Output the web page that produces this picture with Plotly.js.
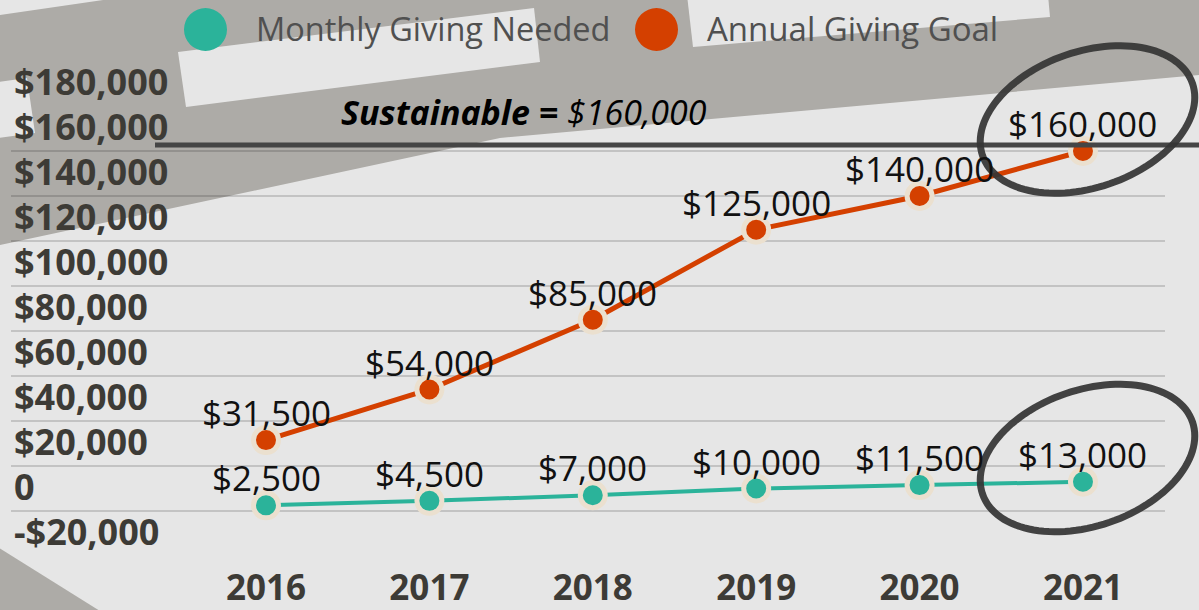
<!DOCTYPE html>
<html>
<head>
<meta charset="utf-8">
<script src="https://cdn.plot.ly/plotly-3.0.1.min.js"></script>
<style>html,body{margin:0;padding:0;background:#e6e6e6;}#chart{width:1199px;height:610px;}</style>
</head>
<body>
<div id="chart"></div>
<script>
// ---- data ----
const years = ['2016', '2017', '2018', '2019', '2020', '2021'];
const monthlyGivingNeeded = [2500, 4500, 7000, 10000, 11500, 13000];
const annualGivingGoal = [31500, 54000, 85000, 125000, 140000, 160000];
const yTickVals = [-20000, 0, 20000, 40000, 60000, 80000, 100000, 120000, 140000, 160000, 180000];
const yTickText = ['-$20,000', '0', '$20,000', '$40,000', '$60,000', '$80,000', '$100,000', '$120,000', '$140,000', '$160,000', '$180,000'];
const sustainableGoal = 160000;
const seriesNames = ['Monthly Giving Needed', 'Annual Giving Goal'];

// ---- style ----
const TEAL = '#2bb39a', ORANGE = '#d44000', RING = '#ebe0cf';
const W = 1199, H = 610, M = {l: 11, r: 34, t: 106, b: 54};
const PW = W - M.l - M.r, PH = H - M.t - M.b;
const px = x => (x - M.l) / PW;
const py = y => (M.t + PH - y) / PH;
const fmt = v => '$' + v.toLocaleString('en-US');

function poly(pts, color, layer) {
  return {type: 'path', xref: 'paper', yref: 'paper', layer: layer || 'below',
    path: 'M' + pts.map(p => px(p[0]).toFixed(5) + ',' + py(p[1]).toFixed(5)).join(' L') + ' Z',
    fillcolor: color, line: {width: 0}};
}
function ellipse(cx, cy, a, b, deg) {
  const th = deg * Math.PI / 180, pts = [];
  for (let i = 0; i < 120; i++) {
    const t = i / 120 * 2 * Math.PI;
    pts.push([cx + a * Math.cos(t) * Math.cos(th) - b * Math.sin(t) * Math.sin(th),
              cy + a * Math.cos(t) * Math.sin(th) + b * Math.sin(t) * Math.cos(th)]);
  }
  return {type: 'path', xref: 'paper', yref: 'paper', layer: 'above', opacity: 0.92,
    path: 'M' + pts.map(p => px(p[0]).toFixed(5) + ',' + py(p[1]).toFixed(5)).join(' L') + ' Z',
    line: {color: '#353535', width: 7}};
}

const DARK = '#adaba7', LIGHT = '#e6e6e6';
const shapes = [
  poly([[0, 15], [110, -1], [1200, -1], [1200, 75], [500, 138], [0, 245]], DARK),
  poly([[178, 52], [534, 8], [540, 62], [186, 107]], LIGHT),
  poly([[687, -5], [1048, -5], [1050, 17], [693, 47]], LIGHT),
  poly([[-1, 82], [27, 78], [35, 133], [-1, 138]], LIGHT),
  poly([[-1, 548], [-1, 611], [100, 611]], DARK),
  {type: 'line', xref: 'paper', yref: 'y', ysizemode: 'pixel', yanchor: sustainableGoal,
   x0: px(155), x1: px(1200), y0: 6, y1: 6, layer: 'above',
   line: {color: '#454545', width: 5}},
  ellipse(1087.5, 119.5, 111, 68, -19),
  ellipse(1087.5, 458, 111, 68, -19),
  {type: 'circle', xref: 'paper', yref: 'paper', x0: px(184), x1: px(227), y0: py(8), y1: py(51),
   fillcolor: TEAL, line: {width: 0}, layer: 'above'},
  {type: 'circle', xref: 'paper', yref: 'paper', x0: px(635), x1: px(678), y0: py(8), y1: py(51),
   fillcolor: ORANGE, line: {width: 0}, layer: 'above'}
];

const annotations = [];
[monthlyGivingNeeded, annualGivingGoal].forEach(vals => {
  vals.forEach((v, i) => annotations.push({
    x: i, y: v, xref: 'x', yref: 'y', text: fmt(v), showarrow: false,
    xanchor: 'center', yanchor: 'bottom', yshift: 2,
    font: {family: 'Open Sans', size: 35, color: '#111111'}
  }));
});
annotations.push({xref: 'paper', yref: 'paper', x: px(254), y: py(29), xanchor: 'left', yanchor: 'middle',
  text: seriesNames[0], showarrow: false, font: {family: 'Open Sans', size: 32.5, color: '#505050'}});
annotations.push({xref: 'paper', yref: 'paper', x: px(705), y: py(29), xanchor: 'left', yanchor: 'middle',
  text: seriesNames[1], showarrow: false, font: {family: 'Open Sans', size: 33, color: '#505050'}});
annotations.push({xref: 'paper', yref: 'paper', x: px(524), y: py(112), xanchor: 'center', yanchor: 'middle',
  text: '<b><i>Sustainable =</i></b><i> ' + fmt(sustainableGoal) + '</i>', showarrow: false,
  font: {family: 'Open Sans', size: 34, color: '#000000'}});

const traces = [
  {x: years, y: monthlyGivingNeeded, name: seriesNames[0], type: 'scatter', mode: 'lines+markers',
   line: {color: TEAL, width: 4}, marker: {color: TEAL, size: 25, line: {color: RING, width: 5}}, cliponaxis: false},
  {x: years, y: annualGivingGoal, name: seriesNames[1], type: 'scatter', mode: 'lines+markers',
   line: {color: ORANGE, width: 5}, marker: {color: ORANGE, size: 25, line: {color: RING, width: 5}}, cliponaxis: false}
];

const layout = {
  width: W, height: H, margin: {l: M.l, r: M.r, t: M.t, b: M.b, pad: 0},
  paper_bgcolor: LIGHT, plot_bgcolor: 'rgba(0,0,0,0)', showlegend: false,
  xaxis: {type: 'category', range: [-1.5606, 5.502], showgrid: false, zeroline: false, showline: false,
    ticks: '', ticklabelstandoff: 8, fixedrange: true,
    tickfont: {family: 'Open Sans', size: 35, color: '#3d3b36', weight: 700}},
  yaxis: {range: [-20000, 180000], tickmode: 'array', tickvals: yTickVals, ticktext: yTickText,
    showgrid: true, gridcolor: 'rgba(0,0,0,0.15)', gridwidth: 2, zeroline: false, showline: false,
    ticks: '', ticklabelposition: 'inside', ticklabeloverflow: 'allow', ticklabelshift: -24, fixedrange: true,
    tickfont: {family: 'Open Sans', size: 36, color: '#3d3b36', weight: 700}},
  shapes: shapes, annotations: annotations
};

Plotly.newPlot('chart', traces, layout, {displayModeBar: false, staticPlot: true});
</script>
</body>
</html>
